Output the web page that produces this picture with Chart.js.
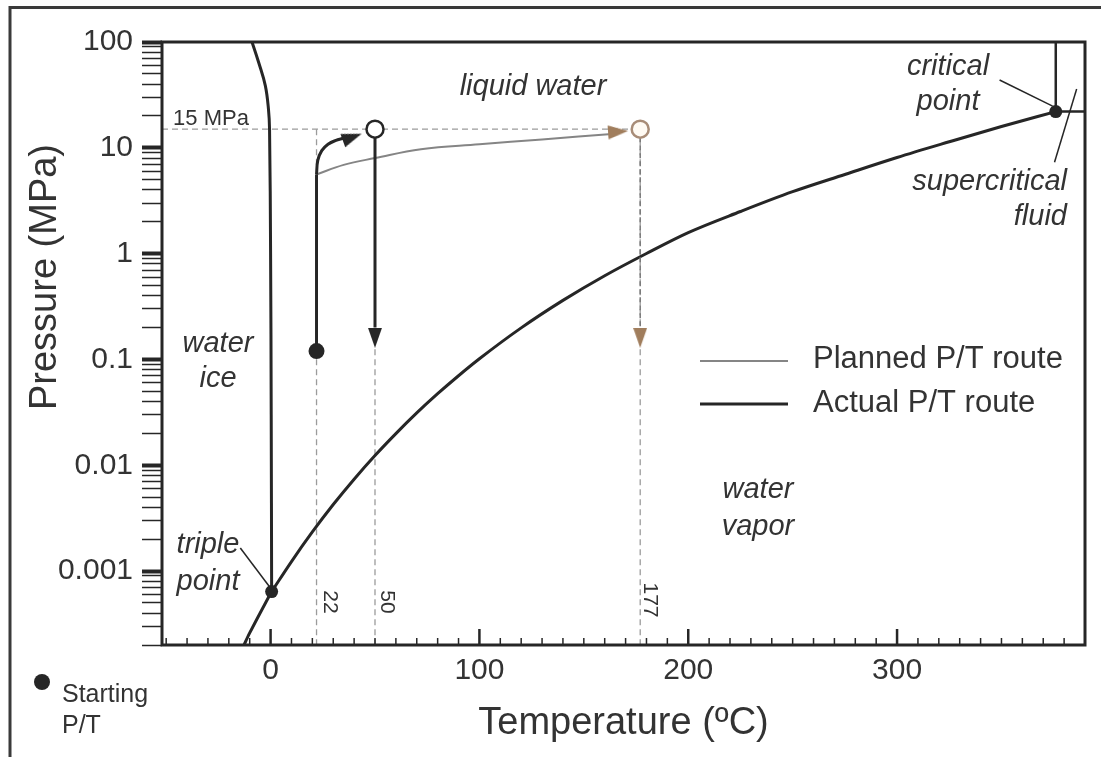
<!DOCTYPE html>
<html>
<head>
<meta charset="utf-8">
<script src="https://cdn.jsdelivr.net/npm/chart.js@4.4.1/dist/chart.umd.min.js"></script>
<style>
  body { margin: 0; background: #fff; }
  #phase_chart { display: block; }
</style>
</head>
<body>
<canvas id="phase_chart" width="1101" height="757"></canvas>
<script>
// temperatures in ºC, pressures in MPa

// liquid / vapor boundary, triple point up to the critical point
const vapor_t = [0.5, 10, 20, 30, 40, 50, 60, 70, 80, 90, 100, 120, 140, 160, 180, 200, 225, 250, 275, 300, 325, 350, 376];
const vapor_p = [0.00064, 0.00123, 0.00234, 0.00425, 0.00738, 0.01235, 0.0199, 0.0312, 0.0474, 0.0701, 0.1014, 0.1987, 0.3615, 0.6182, 1.0028, 1.58, 2.5, 3.85, 5.6, 8.1, 11.4, 15.9, 22];

// ice / liquid boundary
const melt_t = [0.5, 0.3, 0, -0.5, -1.0, -2.5, -5.7, -8.9, -9.4];
const melt_p = [0.00064, 0.03, 1, 15, 23, 38.5, 64, 100, 106];

// ice / vapor boundary
const subl_t = [0.5, -5, -10, -13];
const subl_p = [0.00064, 0.000402, 0.00026, 0.000195];

const triple_pt = { x: 0.5, y: 0.00064 };
const critical_pt = { x: 376, y: 22 };

// supercritical corner
const crit_box_t = [376, 376, 392];
const crit_box_p = [110, 22, 22];

// experiment
const start_pt = { x: 22, y: 0.12 };
const target_p = 15;
const guide_temps = [22, 50, 177];

const actual_rise_t = [22, 22];
const actual_rise_p = [0.12, 5.6];
const actual_bend_t = [22, 22.6, 24.5, 27.5, 31, 35];
const actual_bend_p = [5.6, 7.6, 9.4, 10.8, 11.7, 12.3];
const actual_drop_t = [50, 50];
const actual_drop_p = [15, 0.2];

const planned_t = [22, 35, 50, 72, 100, 130, 165];
const planned_p = [5.6, 6.9, 8.0, 9.7, 10.8, 12.0, 13.6];
const planned_drop_t = [177, 177];
const planned_drop_p = [15, 0.2];

const arrow_black_t = [39.1, 50];
const arrow_black_p = [12.6, 0.16];
const arrow_black_rot = [70, 180];
const arrow_tan_t = [166.4, 177];
const arrow_tan_p = [14.2, 0.16];
const arrow_tan_rot = [86, 180];

// axes
const x_min = -52, x_max = 390;
const y_min = 0.0002, y_max = 100;
const y_label_values = [0.001, 0.01, 0.1, 1, 10, 100];
const y_labels = ["0.001", "0.01", "0.1", "1", "10", "100"];
const x_label_values = [0, 100, 200, 300];

const ink = "#262626";
const text_color = "#333333";
const guide_color = "#9b9b9b";
const planned_color = "#858585";
const tan = "#a07d5c";
const font_family = '"Liberation Sans", Arial, Helvetica, sans-serif';

const pts = (ts, ps) => ts.map((t, i) => ({ x: t, y: ps[i] }));

// log ticks: 1..9 in every decade
const y_ticks = [];
[0.0001, 0.001, 0.01, 0.1, 1, 10].forEach((d) => {
  for (let m = 1; m <= 9; m++) {
    const v = m * d;
    if (v >= y_min * 0.999 && v <= y_max) y_ticks.push(v);
  }
});
y_ticks.push(100);

const is_decade = (v) => y_label_values.some((d) => Math.abs(v - d) / d < 1e-6);

function make_arrow(color) {
  const c = document.createElement("canvas");
  c.width = 14;
  c.height = 20;
  const g = c.getContext("2d");
  g.fillStyle = color;
  g.beginPath();
  g.moveTo(7, 0);
  g.lineTo(14, 20);
  g.lineTo(0, 20);
  g.closePath();
  g.fill();
  return c;
}

const line = (data, color, width, extra) =>
  Object.assign(
    {
      data: data,
      showLine: true,
      borderColor: color,
      borderWidth: width,
      pointRadius: 0,
      tension: 0,
    },
    extra || {}
  );

const guides = [
  line(pts([x_min, 177], [target_p, target_p]), guide_color, 1.3, { borderDash: [6, 4] }),
];
guide_temps.forEach((t) => {
  guides.push(line(pts([t, t], [target_p, y_min]), guide_color, 1.3, { borderDash: [6, 4] }));
});

const datasets = [
  {
    data: [start_pt],
    pointRadius: 8,
    pointBackgroundColor: ink,
    pointBorderWidth: 0,
  },
  {
    data: [triple_pt, critical_pt],
    pointRadius: 6.5,
    pointBackgroundColor: ink,
    pointBorderWidth: 0,
  },
  {
    data: [{ x: 50, y: target_p }],
    pointRadius: 8.5,
    pointBackgroundColor: "#ffffff",
    pointBorderColor: ink,
    pointBorderWidth: 2.5,
  },
  {
    data: [{ x: 177, y: target_p }],
    pointRadius: 8.5,
    pointBackgroundColor: "#fffaf3",
    pointBorderColor: "#a88c77",
    pointBorderWidth: 2.5,
  },
  {
    data: pts(arrow_black_t, arrow_black_p),
    pointStyle: make_arrow(ink),
    pointRotation: arrow_black_rot,
    pointRadius: 8,
  },
  {
    data: pts(arrow_tan_t, arrow_tan_p),
    pointStyle: make_arrow(tan),
    pointRotation: arrow_tan_rot,
    pointRadius: 8,
  },
  line(pts(actual_rise_t, actual_rise_p), ink, 3),
  line(pts(actual_bend_t, actual_bend_p), ink, 3, { tension: 0.4 }),
  line(pts(actual_drop_t, actual_drop_p), ink, 3),
  line(pts(planned_t, planned_p), planned_color, 2, { tension: 0.4 }),
  line(pts(planned_drop_t, planned_drop_p), "#7a7a7a", 1.5, { borderDash: [5, 3] }),
  line(pts(vapor_t, vapor_p), ink, 3, { cubicInterpolationMode: "monotone" }),
  line(pts(melt_t, melt_p), ink, 3, { tension: 0.4 }),
  line(pts(subl_t, subl_p), ink, 3, { tension: 0.3 }),
  line(pts(crit_box_t, crit_box_p), ink, 2.5),
  // leader lines for the point labels
  line(pts([-14.5, 0.3], [0.00165, 0.000676]), ink, 1.5),
  line(pts([349.1, 374.5], [43.7, 24.8]), ink, 1.5),
  line(pts([375.4, 386], [7.3, 35.9]), ink, 1.5),
].concat(guides);

function put_text(ctx, str, x, y, font, align) {
  ctx.font = font;
  ctx.textAlign = align || "center";
  ctx.textBaseline = "alphabetic";
  ctx.fillText(str, x, y);
}

// frame, inward temperature ticks, labels and legend
const decor = {
  id: "decor",
  afterDraw(chart) {
    const ctx = chart.ctx;
    const area = chart.chartArea;
    const xs = chart.scales.x;
    ctx.save();

    ctx.strokeStyle = ink;
    xs.ticks.forEach((tick) => {
      const px = xs.getPixelForValue(tick.value);
      if (px < area.left + 3 || px > area.right - 3) return;
      const major = x_label_values.includes(tick.value);
      ctx.lineWidth = major ? 2.5 : 1.5;
      ctx.beginPath();
      ctx.moveTo(px, area.bottom);
      ctx.lineTo(px, area.bottom - (major ? 16 : 7));
      ctx.stroke();
    });

    ctx.lineWidth = 3;
    ctx.strokeRect(area.left, area.top, area.right - area.left, area.bottom - area.top);

    ctx.strokeStyle = "#3a3a3a";
    ctx.beginPath();
    ctx.moveTo(10, 757);
    ctx.lineTo(10, 7.5);
    ctx.lineTo(1101, 7.5);
    ctx.stroke();

    ctx.fillStyle = text_color;
    const it = 'italic 29px ' + font_family;
    put_text(ctx, "liquid water", 533, 95, it);
    put_text(ctx, "water", 218, 352, it);
    put_text(ctx, "ice", 218, 387, it);
    put_text(ctx, "triple", 208, 553, it);
    put_text(ctx, "point", 208, 590, it);
    put_text(ctx, "critical", 948, 75, it);
    put_text(ctx, "point", 948, 110, it);
    put_text(ctx, "supercritical", 1067, 190, it, "right");
    put_text(ctx, "fluid", 1067, 225, it, "right");
    put_text(ctx, "water", 758, 498, it);
    put_text(ctx, "vapor", 758, 535, it);

    put_text(ctx, "15 MPa", 211, 125, '22px ' + font_family);

    [["22", 324, 602], ["50", 381, 602], ["177", 644, 600]].forEach((d) => {
      ctx.save();
      ctx.translate(d[1], d[2]);
      ctx.rotate(Math.PI / 2);
      put_text(ctx, d[0], 0, 0, '21px ' + font_family);
      ctx.restore();
    });

    // legend
    ctx.lineCap = "butt";
    ctx.strokeStyle = planned_color;
    ctx.lineWidth = 2;
    ctx.beginPath();
    ctx.moveTo(700, 361);
    ctx.lineTo(788, 361);
    ctx.stroke();
    ctx.strokeStyle = ink;
    ctx.lineWidth = 3;
    ctx.beginPath();
    ctx.moveTo(700, 404);
    ctx.lineTo(788, 404);
    ctx.stroke();
    put_text(ctx, "Planned P/T route", 813, 368, '31px ' + font_family, "left");
    put_text(ctx, "Actual P/T route", 813, 412, '31px ' + font_family, "left");

    ctx.fillStyle = ink;
    ctx.beginPath();
    ctx.arc(42, 682, 8, 0, Math.PI * 2);
    ctx.fill();
    ctx.fillStyle = text_color;
    put_text(ctx, "Starting", 62, 702, '25px ' + font_family, "left");
    put_text(ctx, "P/T", 62, 733, '25px ' + font_family, "left");

    ctx.save();
    ctx.translate(56, 277);
    ctx.rotate(-Math.PI / 2);
    put_text(ctx, "Pressure (MPa)", 0, 0, '38px ' + font_family);
    ctx.restore();

    ctx.restore();
  },
};

Chart.defaults.font.family = font_family;
Chart.defaults.color = text_color;

const phase_chart = new Chart(document.getElementById("phase_chart"), {
  type: "scatter",
  data: { datasets: datasets },
  options: {
    responsive: false,
    animation: false,
    events: [],
    layout: { padding: { top: 42, right: 16, left: 0, bottom: 0 } },
    plugins: {
      legend: { display: false },
      tooltip: { enabled: false },
    },
    scales: {
      x: {
        type: "linear",
        min: x_min,
        max: x_max,
        afterFit(scale) {
          scale.height = 112;
        },
        grid: { display: false, drawTicks: false },
        border: { display: false },
        ticks: {
          stepSize: 10,
          includeBounds: false,
          autoSkip: false,
          maxRotation: 0,
          padding: 8,
          font: { size: 30 },
          color: text_color,
          callback: (v) => (x_label_values.includes(v) ? String(v) : ""),
        },
        title: {
          display: true,
          text: "Temperature (ºC)",
          font: { size: 38 },
          color: text_color,
          padding: { top: 0, bottom: 11 },
        },
      },
      y: {
        type: "logarithmic",
        min: y_min,
        max: y_max,
        afterFit(scale) {
          scale.width = 162;
        },
        afterBuildTicks(scale) {
          scale.ticks = y_ticks.map((v) => ({ value: v, major: is_decade(v) }));
        },
        grid: {
          drawOnChartArea: false,
          tickLength: 20,
          tickColor: ink,
          tickWidth: (c) => (c.tick && is_decade(c.tick.value) ? 4 : 1.5),
        },
        border: { display: false },
        ticks: {
          autoSkip: false,
          padding: 9,
          font: { size: 30 },
          color: text_color,
          callback: (v) => {
            const i = y_label_values.findIndex((d) => Math.abs(v - d) / d < 1e-6);
            return i >= 0 ? y_labels[i] : "";
          },
        },
      },
    },
  },
  plugins: [decor],
});
</script>
</body>
</html>
